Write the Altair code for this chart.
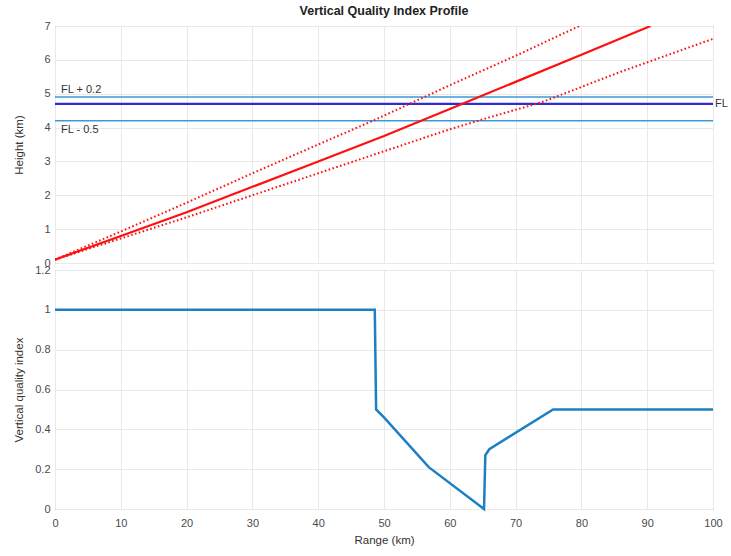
import altair as alt
import pandas as pd

# ---- data ----
solid_x = [0, 10, 20, 30, 40, 50, 60, 70, 80, 90.5]
solid_h = [0.1, 0.8, 1.5, 2.25, 3.0, 3.75, 4.55, 5.35, 6.15, 7.0]
upper_x = [0, 10, 20, 30, 40, 48.3, 60, 70, 79.7]
upper_h = [0.1, 0.93, 1.78, 2.65, 3.5, 4.2, 5.25, 6.12, 7.0]
lower_x = [0, 20, 40, 60, 66, 74, 86, 100]
lower_h = [0.1, 1.35, 2.65, 3.95, 4.3, 4.75, 5.65, 6.62]

fl_names = ["FL + 0.2", "FL", "FL - 0.5"]
fl_levels = [4.9, 4.7, 4.2]
fl_colors = ["#3d9ad6", "#2e2ed0", "#3d9ad6"]
fl_widths = [1.5, 2.2, 1.5]

qi_x = [0, 48.6, 48.8, 50, 56.8, 65.2, 65.4, 66, 75.7, 100]
qi_y = [1, 1, 0.5, 0.46, 0.21, 0, 0.27, 0.3, 0.5, 0.5]

x_ticks = list(range(0, 101, 10))
h_ticks = list(range(0, 8))
q_ticks = [0, 0.2, 0.4, 0.6, 0.8, 1.0, 1.2]

FONT = "Liberation Sans"
W = 658

def mk(xs, ys, name):
    return pd.DataFrame({"x": xs, "y": ys, "i": list(range(len(xs))), "s": name})

xscale = alt.Scale(domain=[0, 100], nice=False)

# ---- top panel ----
yscale_top = alt.Scale(domain=[0, 7], nice=False)
Xt = alt.X("x:Q", scale=xscale,
           axis=alt.Axis(values=x_ticks, labels=False, title=None))
Yt = alt.Y("y:Q", scale=yscale_top,
           axis=alt.Axis(values=h_ticks, title="Height (km)", titleX=-31,
                         labelOverlap=False, labelFlush=False))

solid = alt.Chart(mk(solid_x, solid_h, "beam")).mark_line(
    color="#ff1010", strokeWidth=2.2, clip=True
).encode(x=Xt, y=Yt, order="i:Q")

upper = alt.Chart(mk(upper_x, upper_h, "upper")).mark_line(
    color="#ff1010", strokeWidth=2, strokeDash=[1.6, 2.4], clip=True
).encode(x=Xt, y=Yt, order="i:Q")

lower = alt.Chart(mk(lower_x, lower_h, "lower")).mark_line(
    color="#ff1010", strokeWidth=2, strokeDash=[1.6, 2.4], clip=True
).encode(x=Xt, y=Yt, order="i:Q")

fl_df = pd.DataFrame({"name": fl_names, "y": fl_levels, "c": fl_colors, "w": fl_widths})

rules = alt.Chart(fl_df).mark_rule().encode(
    y=Yt,
    color=alt.Color("c:N", scale=None),
    strokeWidth=alt.StrokeWidth("w:Q", scale=None),
)

txt_style = dict(font=FONT, fontSize=11, color="#333333")

lab_plus = alt.Chart(fl_df[fl_df["name"] == "FL + 0.2"]).mark_text(
    align="left", baseline="bottom", dx=6, dy=-2, **txt_style
).encode(x=alt.value(0), y=Yt, text="name:N")

lab_minus = alt.Chart(fl_df[fl_df["name"] == "FL - 0.5"]).mark_text(
    align="left", baseline="top", dx=6, dy=3, **txt_style
).encode(x=alt.value(0), y=Yt, text="name:N")

lab_fl = alt.Chart(fl_df[fl_df["name"] == "FL"]).mark_text(
    align="left", baseline="middle", dx=2, **txt_style
).encode(x=alt.value(W), y=Yt, text="name:N")

top = alt.layer(rules, solid, upper, lower, lab_plus, lab_minus, lab_fl).properties(
    width=W, height=237,
    title=alt.TitleParams("Vertical Quality Index Profile", font=FONT, fontSize=12.5,
                          fontWeight="bold", anchor="middle", offset=3, color="#222222"),
)

# ---- bottom panel ----
Xb = alt.X("x:Q", scale=xscale,
           axis=alt.Axis(values=x_ticks, title="Range (km)", labelPadding=8,
                         titlePadding=6, labelFlush=False))
Yb = alt.Y("y:Q", scale=alt.Scale(domain=[0, 1.2], nice=False),
           axis=alt.Axis(values=q_ticks, format="~g", title="Vertical quality index",
                         titleX=-31, labelOverlap=False, labelFlush=False))

bottom = alt.Chart(mk(qi_x, qi_y, "qi")).mark_line(
    color="#1f7fc4", strokeWidth=2.5, strokeJoin="miter"
).encode(x=Xb, y=Yb, order="i:Q").properties(width=W, height=239)

chart = alt.vconcat(top, bottom, spacing=7, bounds="flush").properties(
    padding={"left": 12, "top": 4, "right": 0, "bottom": 2}
).configure_axis(
    labelFont=FONT, titleFont=FONT, labelFontSize=11, titleFontSize=11.5,
    labelColor="#4a4a4a", titleColor="#333333", titleFontWeight="normal",
    gridColor="#e9e9e9", domain=False, ticks=False, labelPadding=5, titlePadding=8,
).configure_view(stroke="#8a8a8a", strokeWidth=1)

chart.save("out.html", embed_options={"renderer": "svg", "actions": False})
